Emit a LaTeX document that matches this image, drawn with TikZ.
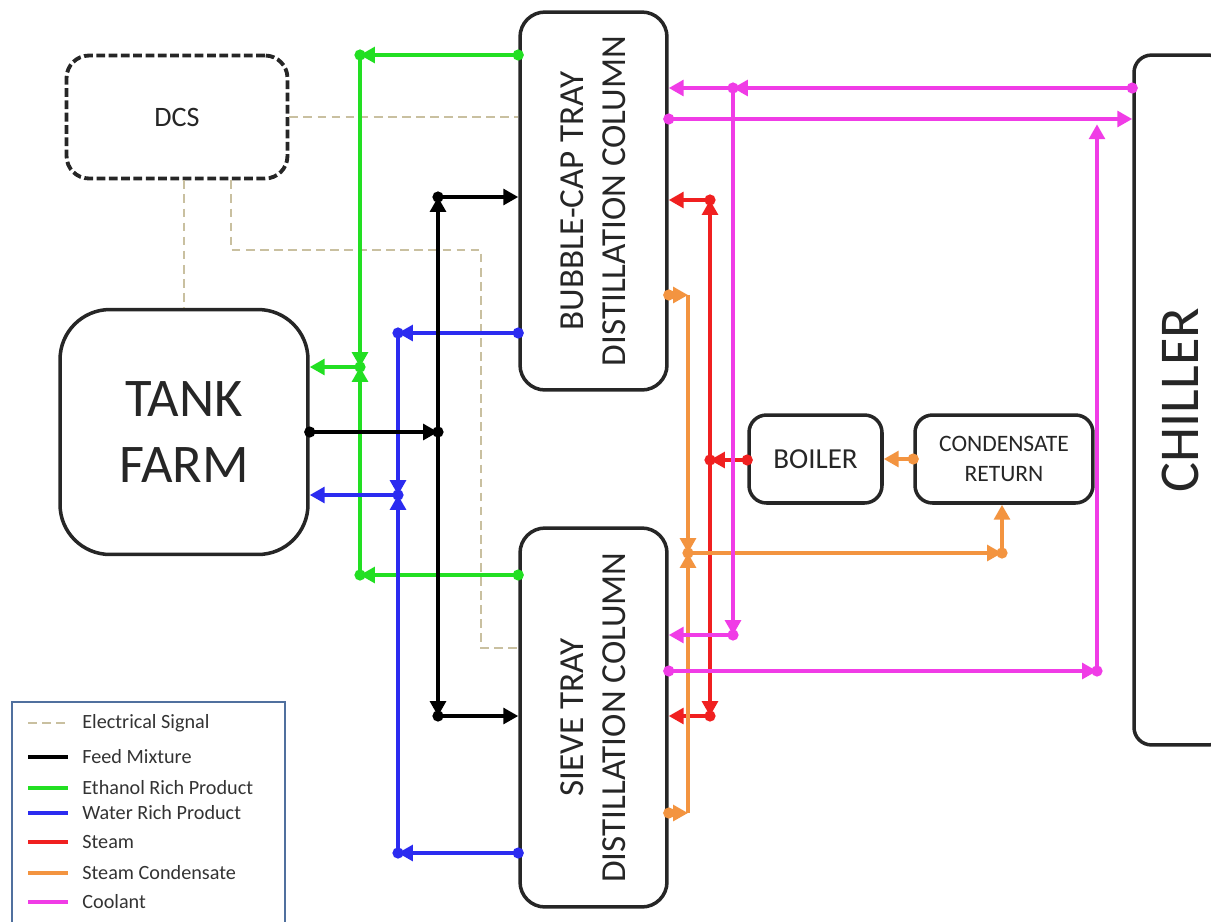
\documentclass[tikz,border=0pt]{standalone}
\usepackage{fontspec}
\setmainfont{Carlito}
\usetikzlibrary{arrows.meta}

\definecolor{sig}{HTML}{C9C0A0}
\definecolor{eth}{HTML}{22DF22}
\definecolor{wat}{HTML}{2B2BF0}
\definecolor{stm}{HTML}{F02020}
\definecolor{cnd}{HTML}{F39440}
\definecolor{cool}{HTML}{F03CE6}
\definecolor{legb}{HTML}{50709E}

\tikzset{
  unitbox/.style={draw=black!85, line width=2pt, rounded corners=#1, align=center, inner sep=0pt, text=black!85},
  unitbox/.default=0.4cm,
  coltxt/.style={rotate=90, align=center, text=black!85, font=\fontsize{20}{24}\selectfont},
  pipe/.style={line width=2pt, -{Triangle[length=8.5pt,width=9pt]}},
  sigline/.style={draw=sig, line width=1.6pt, dash pattern=on 5pt off 3pt},
  legtxt/.style={anchor=west, inner sep=0pt, text=black!80, font=\fontsize{11.5}{13}\selectfont},
}

\begin{document}
\begin{tikzpicture}[x=0.02cm,y=-0.02cm]
  \useasboundingbox (0,0) rectangle (1211,921);

  % units
  \node[unitbox=0.45cm, dash pattern=on 5pt off 2pt, line width=2.2pt, minimum width=4.42cm, minimum height=2.46cm, font=\fontsize{16}{19}\selectfont] (dcs) at (177,117) {DCS};
  \node[unitbox=1cm, minimum width=4.96cm, minimum height=4.9cm, font=\fontsize{31}{38}\selectfont] (tank) at (184,432) {TANK\\FARM};
  \node[unitbox=0.5cm, minimum width=2.94cm, minimum height=7.56cm] (bub) at (593.5,201) {};
  \node[coltxt] (bubtxt) at (bub) {BUBBLE-CAP TRAY\\DISTILLATION COLUMN};
  \node[unitbox=0.5cm, minimum width=2.94cm, minimum height=7.58cm] (sieve) at (593.5,717.5) {};
  \node[coltxt] (sievetxt) at (sieve) {SIEVE TRAY\\DISTILLATION COLUMN};
  \node[unitbox=0.35cm, minimum width=2.66cm, minimum height=1.76cm, font=\fontsize{16.5}{20}\selectfont] (boiler) at (815.5,459) {BOILER};
  \node[unitbox=0.35cm, minimum width=3.56cm, minimum height=1.76cm, font=\fontsize{13.4}{17}\selectfont] (cond) at (1004,459) {CONDENSATE\\RETURN};
  \node[unitbox=0.35cm, minimum width=1.84cm, minimum height=13.8cm] (chiller) at (1180,400) {};
  \node[rotate=90, text=black!85, font=\fontsize{32}{38}\selectfont] (chilltxt) at (chiller) {CHILLER};

  % junctions
  \coordinate (gt) at (360,55);  \coordinate (gj) at (360,367);  \coordinate (gb) at (360,575);
  \coordinate (wt) at (398,333); \coordinate (wj) at (398,495);  \coordinate (wb) at (398,853);
  \coordinate (ft) at (438,197); \coordinate (fj) at (438,432);  \coordinate (fb) at (438,716);
  \coordinate (st) at (710,200); \coordinate (sj) at (710,460);  \coordinate (sb) at (710,716);
  \coordinate (ct) at (688,295); \coordinate (cj) at (688,553);  \coordinate (cb) at (688,813);
  \coordinate (cr) at (1002,553);
  \coordinate (mt) at (733,88);  \coordinate (mb) at (733,635);
  \coordinate (mo) at (1097,119); \coordinate (ms) at (1097,671);
  \coordinate (e1) at (231,250); \coordinate (e2) at (481,250);  \coordinate (e3) at (481,648);

  % electrical signal
  \draw[sigline] (dcs.south -| tank.north) -- (tank.north);
  \draw[sigline] (dcs.east) -- (bub.west |- dcs.east);
  \draw[sigline] (dcs.south -| e1) -- (e1) -- (e2) -- (e3) -- (sieve.west |- e3);

  % ethanol rich product
  \draw[pipe,eth] (bub.west |- gt) -- (gt);
  \draw[pipe,eth] (sieve.west |- gb) -- (gb);
  \draw[pipe,eth] (gt) -- (gj);
  \draw[pipe,eth] (gb) -- (gj);
  \draw[pipe,eth] (gj) -- (tank.east |- gj);
  \foreach \p in {bub.west |- gt, gt, sieve.west |- gb, gb, gj}
    \fill[eth] (\p) circle (3.2pt);

  % water rich product
  \draw[pipe,wat] (bub.west |- wt) -- (wt);
  \draw[pipe,wat] (sieve.west |- wb) -- (wb);
  \draw[pipe,wat] (wt) -- (wj);
  \draw[pipe,wat] (wb) -- (wj);
  \draw[pipe,wat] (wj) -- (tank.east |- wj);
  \foreach \p in {bub.west |- wt, wt, sieve.west |- wb, wb, wj}
    \fill[wat] (\p) circle (3.2pt);

  % feed mixture
  \draw[pipe] (tank.east |- fj) -- (fj);
  \draw[pipe] (fj) -- (ft);
  \draw[pipe] (ft) -- (bub.west |- ft);
  \draw[pipe] (fj) -- (fb);
  \draw[pipe] (fb) -- (sieve.west |- fb);
  \foreach \p in {tank.east |- fj, fj, ft, fb}
    \fill (\p) circle (3.2pt);

  % steam
  \draw[pipe,stm] (boiler.west |- sj) -- (sj);
  \draw[pipe,stm] (sj) -- (st);
  \draw[pipe,stm] (st) -- (bub.east |- st);
  \draw[pipe,stm] (sj) -- (sb);
  \draw[pipe,stm] (sb) -- (sieve.east |- sb);
  \foreach \p in {boiler.west |- sj, sj, st, sb}
    \fill[stm] (\p) circle (3.2pt);

  % steam condensate
  \draw[pipe,cnd] (bub.east |- ct) -- (ct);
  \draw[pipe,cnd] (ct) -- (cj);
  \draw[pipe,cnd] (sieve.east |- cb) -- (cb);
  \draw[pipe,cnd] (cb) -- (cj);
  \draw[pipe,cnd] (cj) -- (cr);
  \draw[pipe,cnd] (cr) -- (cond.south -| cr);
  \draw[pipe,cnd] (cond.west) -- (boiler.east);
  \foreach \p in {bub.east |- ct, sieve.east |- cb, cj, cr, cond.west}
    \fill[cnd] (\p) circle (3.2pt);

  % coolant
  \draw[pipe,cool] (chiller.west |- mt) -- (mt);
  \draw[pipe,cool] (mt) -- (bub.east |- mt);
  \draw[pipe,cool] (mt) -- (mb);
  \draw[pipe,cool] (mb) -- (sieve.east |- mb);
  \draw[pipe,cool] (bub.east |- mo) -- (chiller.west |- mo);
  \draw[pipe,cool] (sieve.east |- ms) -- (ms);
  \draw[pipe,cool, shorten >=3pt] (ms) -- (mo);
  \foreach \p in {chiller.west |- mt, mt, mb, bub.east |- mo, sieve.east |- ms, ms}
    \fill[cool] (\p) circle (3.2pt);

  % legend
  \draw[legb, line width=1.4pt] (12,702) rectangle (285,935);
  \draw[sigline] (28,723) -- (68,723);
  \node[legtxt] (leg0) at (82,723) {Electrical Signal};
  \foreach \y/\c/\t [count=\i] in {757/black/Feed Mixture, 788/eth/Ethanol Rich Product, 813/wat/Water Rich Product, 842/stm/Steam, 873/cnd/Steam Condensate, 902/cool/Coolant} {
    \draw[\c, line width=2.2pt] (28,\y) -- (68,\y);
    \node[legtxt] (leg\i) at (82,\y) {\t};
  }
\end{tikzpicture}
\end{document}
